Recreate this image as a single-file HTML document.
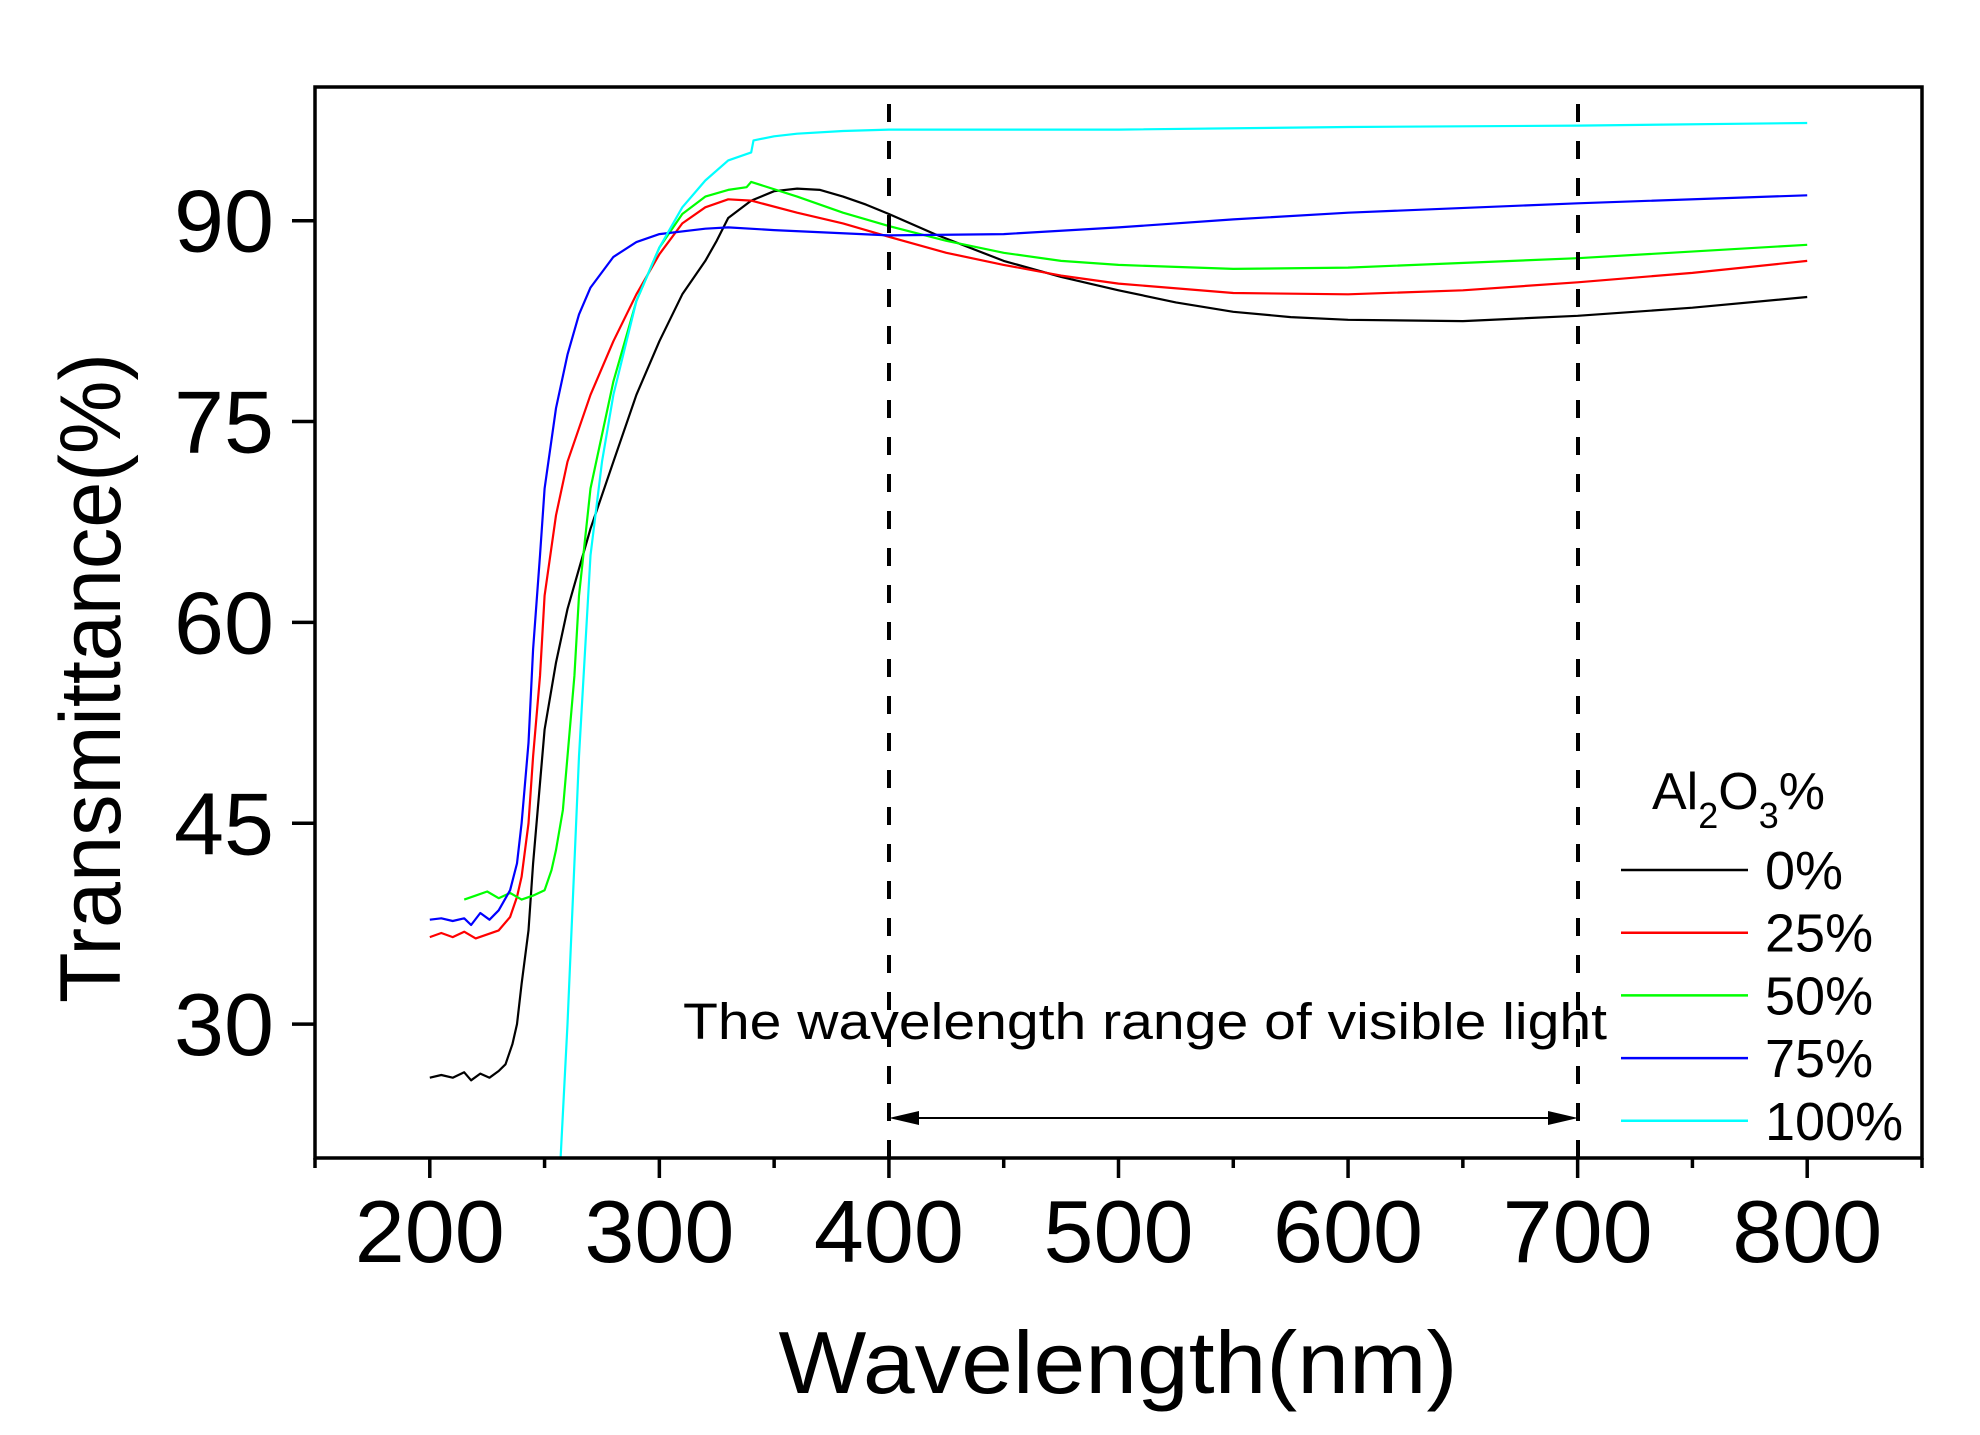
<!DOCTYPE html>
<html><head><meta charset="utf-8"><style>html,body{margin:0;padding:0;background:#fff}svg{display:block}text{font-family:"Liberation Sans",Arial,sans-serif;fill:#000}</style></head>
<body>
<svg id="s" width="1980" height="1435" viewBox="0 0 1980 1435" xmlns="http://www.w3.org/2000/svg">
<rect width="1980" height="1435" fill="#fff"/>
<g id="curves" fill="none" stroke-width="2.2" stroke-linejoin="round"></g>
<line x1="889" y1="104" x2="889" y2="1158" stroke="#000" stroke-width="4" stroke-dasharray="18,19"/>
<line x1="1578" y1="104" x2="1578" y2="1158" stroke="#000" stroke-width="4" stroke-dasharray="18,19"/>
<line x1="900" y1="1118" x2="1566" y2="1118" stroke="#000" stroke-width="2"/>
<polygon points="889,1118 919,1111 919,1125" fill="#000"/>
<polygon points="1578,1118 1548,1111 1548,1125" fill="#000"/>
<text x="683" y="1039" font-size="51" textLength="924" lengthAdjust="spacingAndGlyphs">The wavelength range of visible light</text>
<rect x="315" y="87" width="1607" height="1071" fill="none" stroke="#000" stroke-width="3.5"/>
<g id="ticks" stroke="#000" stroke-width="3.5"></g>
<g id="labels" font-size="88"></g>
<text x="1118" y="1393" font-size="88" text-anchor="middle" textLength="679" lengthAdjust="spacingAndGlyphs">Wavelength(nm)</text>
<text transform="translate(120,678) rotate(-90)" font-size="86" text-anchor="middle" textLength="650" lengthAdjust="spacingAndGlyphs">Transmittance(%)</text>
<text x="1652" y="809" font-size="52">Al<tspan font-size="36" dy="19">2</tspan><tspan dy="-19">O</tspan><tspan font-size="36" dy="19">3</tspan><tspan dy="-19">%</tspan></text>
<g id="legend" font-size="54"></g>
</svg>
<script>
var X=function(n){return 315+(n-150)*2.2957;},Y=function(t){return 1158-(t-20)*13.39;};
var series=[
["#000",[[200,26],[205,26.2],[210,26],[215,26.4],[218,25.8],[222,26.3],[226,26],[230,26.5],[233,27],[236,28.5],[238,30],[240,33],[243,37],[245,42],[248,48],[250,52],[255,57],[260,61],[265,64],[270,67],[280,72],[290,77],[300,81],[310,84.5],[320,87],[325,88.5],[330,90.2],[340,91.5],[350,92.2],[360,92.4],[370,92.3],[380,91.8],[390,91.2],[400,90.5],[420,89],[450,87],[475,85.8],[500,84.8],[525,83.9],[550,83.2],[575,82.8],[600,82.6],[650,82.5],[700,82.9],[750,83.5],[800,84.3]]],
["#f00",[[200,36.5],[205,36.8],[210,36.5],[215,36.9],[220,36.4],[225,36.7],[230,37],[235,38],[238,39.5],[240,41],[243,45],[245,50],[248,56],[250,62],[255,68],[260,72],[270,77],[280,81],[290,84.5],[300,87.5],[310,89.8],[320,91],[330,91.6],[340,91.5],[360,90.6],[380,89.8],[400,88.8],[425,87.6],[450,86.7],[475,85.9],[500,85.3],[550,84.6],[600,84.5],[650,84.8],[700,85.4],[750,86.1],[800,87]]],
["#0f0",[[215,39.3],[220,39.6],[225,39.9],[230,39.4],[235,39.8],[240,39.3],[245,39.6],[250,40],[253,41.5],[255,43],[258,46],[260,50],[263,56],[265,62],[270,70],[280,78],[290,84],[300,88],[310,90.5],[320,91.8],[330,92.3],[338,92.5],[340,92.9],[360,91.8],[380,90.6],[400,89.6],[425,88.5],[450,87.6],[475,87],[500,86.7],[550,86.4],[600,86.5],[700,87.2],[800,88.2]]],
["#00f",[[200,37.8],[205,37.9],[210,37.7],[215,37.9],[218,37.4],[222,38.3],[226,37.8],[230,38.5],[235,40],[238,42],[240,45],[243,51],[245,58],[248,65],[250,70],[255,76],[260,80],[265,83],[270,85],[280,87.3],[290,88.4],[300,89],[320,89.4],[330,89.5],[350,89.3],[400,88.9],[450,89],[500,89.5],[550,90.1],[600,90.6],[700,91.3],[800,91.9]]],
["#0ff",[[257,20],[260,30],[263,42],[265,50],[268,59],[270,65],[275,72],[280,77],[290,84],[300,88],[310,91],[320,93],[330,94.5],[340,95.1],[341,96],[350,96.3],[360,96.5],[380,96.7],[400,96.8],[500,96.8],[600,97],[700,97.1],[800,97.3]]]
];
var ns="http://www.w3.org/2000/svg",g=document.getElementById("curves");
series.forEach(function(s){var p=document.createElementNS(ns,"polyline");p.setAttribute("stroke",s[0]);p.setAttribute("points",s[1].map(function(d){return X(d[0]).toFixed(1)+","+Y(d[1]).toFixed(1)}).join(" "));g.appendChild(p);});
var t=document.getElementById("ticks"),l=document.getElementById("labels"),h="";
for(var n=150;n<=850;n+=50){var x=X(n),maj=n%100==0;h+='<line x1="'+x+'" y1="1158" x2="'+x+'" y2="'+(maj?1178:1168)+'"/>';}
[30,45,60,75,90].forEach(function(v){h+='<line x1="292" y1="'+Y(v)+'" x2="315" y2="'+Y(v)+'"/>';});
t.innerHTML=h;h="";
for(n=200;n<=800;n+=100){h+='<text x="'+X(n)+'" y="1262" text-anchor="middle" textLength="150" lengthAdjust="spacingAndGlyphs">'+n+'</text>';}
[30,45,60,75,90].forEach(function(v){h+='<text x="274" y="'+(Y(v)+31)+'" text-anchor="end" textLength="100" lengthAdjust="spacingAndGlyphs">'+v+'</text>';});
l.innerHTML=h;h="";
var labs=["0%","25%","50%","75%","100%"];
series.forEach(function(s,i){var y=870+i*62.7;h+='<line x1="1621" y1="'+y+'" x2="1748" y2="'+y+'" stroke="'+s[0]+'" stroke-width="2.5"/><text x="1765" y="'+(y+19)+'">'+labs[i]+'</text>';});
document.getElementById("legend").innerHTML=h;
</script>
</body></html>
